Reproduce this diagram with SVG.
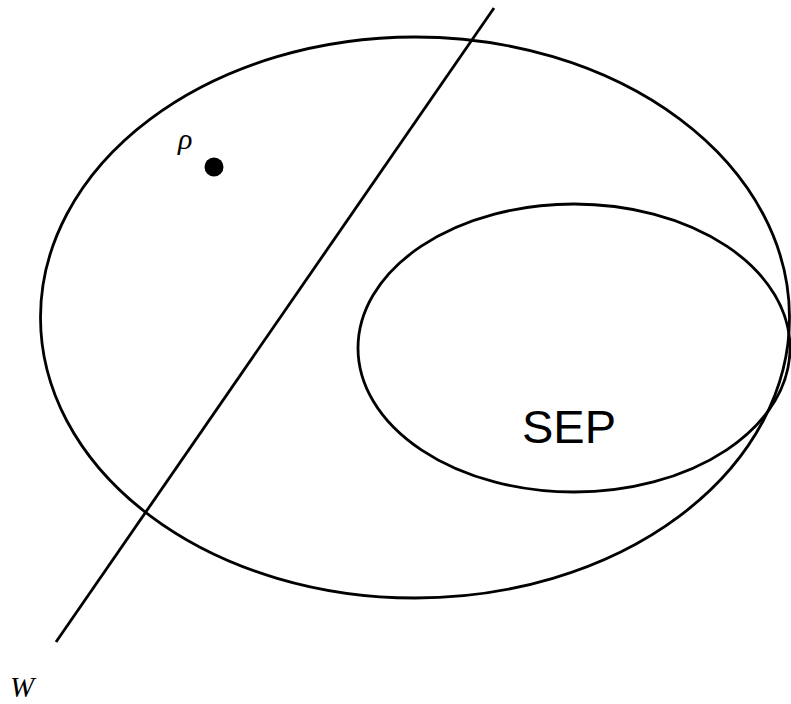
<svg xmlns="http://www.w3.org/2000/svg" width="791" height="704" viewBox="0 0 791 704">
<style>
.s{fill:none;stroke:#000;stroke-width:2.8}
</style>
<rect width="791" height="704" fill="#fff"/>
<g id="outer"><ellipse class="s" cx="415" cy="317.5" rx="374.5" ry="280.5"/></g>
<g id="sep"><ellipse class="s" cx="574" cy="348" rx="216" ry="144"/>
<text x="569" y="443" font-family="Liberation Sans,Arial,sans-serif" font-size="47" text-anchor="middle">SEP</text></g>
<g id="connectors"><line class="s" x1="494" y1="8" x2="56" y2="642"/></g>
<g id="rho"><circle cx="214" cy="167" r="9.5" fill="#000"/>
<text x="178" y="149" font-family="'Liberation Serif',serif" font-style="italic" font-size="30">ρ</text></g>
<g id="W"><text x="10" y="697" font-family="'Liberation Serif',serif" font-style="italic" font-size="29">W</text></g>
</svg>
